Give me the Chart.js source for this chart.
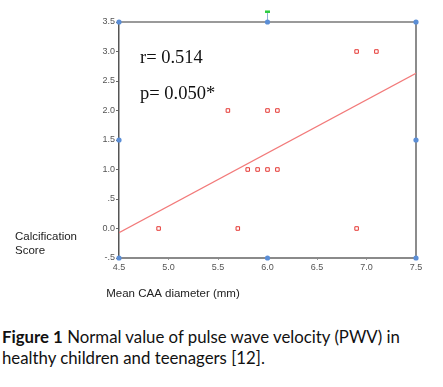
<!DOCTYPE html>
<html>
<head>
<meta charset="utf-8">
<script src="https://cdn.jsdelivr.net/npm/chart.js@4"></script>
<style>
  body { margin: 0; background: #fff; }
  #wrap { position: relative; width: 443px; height: 310px; }
  .caption {
    position: absolute; left: 2px; top: 326px; width: 441px;
    font-family: Lato, "Open Sans", sans-serif; font-size: 16.8px; line-height: 21px; color: #111;
  }
</style>
</head>
<body>
<div id="wrap"><canvas id="scatterCanvas"></canvas></div>
<div class="caption"><b>Figure 1</b> Normal value of pulse wave velocity (PWV) in<br>healthy children and teenagers [12].</div>
<script>
// data
const caaDiameter = [4.9, 5.7, 6.9, 5.8, 5.9, 6.0, 6.1, 5.6, 6.0, 6.1, 6.9, 7.1];
const calcScore   = [0,   0,   0,   1,   1,   1,   1,   2,   2,   2,   3,   3];
const fitX = [4.5, 7.5];
const fitY = [-0.07, 2.63];
const xTicks = [4.5, 5.0, 5.5, 6.0, 6.5, 7.0, 7.5];
const xTickLabels = ['4.5', '5.0', '5.5', '6.0', '6.5', '7.0', '7.5'];
const yTicks = [-0.5, 0, 0.5, 1.0, 1.5, 2.0, 2.5, 3.0, 3.5];
const yTickLabels = ['-.5', '0.0', '.5', '1.0', '1.5', '2.0', '2.5', '3.0', '3.5'];
// picture-editor selection handles visible on the figure
const handleX = [4.5, 6.0, 7.5, 4.5, 7.5, 4.5, 6.0, 7.5];
const handleY = [3.5, 3.5, 3.5, 1.5, 1.5, -0.5, -0.5, -0.5];
const rotateX = [6.0, 6.0];
const rotateY = [3.5, 3.67];

const toPoints = (xs, ys) => xs.map((x, i) => ({ x: x, y: ys[i] }));

const textPlugin = {
  id: 'figText',
  beforeDatasetsDraw(chart) {
    const { ctx, chartArea: a } = chart;
    ctx.save();
    // top and right frame lines
    ctx.strokeStyle = '#9a9a9a';
    ctx.lineWidth = 2;
    ctx.beginPath();
    ctx.moveTo(a.left, a.top);
    ctx.lineTo(a.right, a.top);
    ctx.stroke();
    ctx.strokeStyle = '#666';
    ctx.lineWidth = 1.5;
    ctx.beginPath();
    ctx.moveTo(a.right, a.top);
    ctx.lineTo(a.right, a.bottom);
    ctx.stroke();
    ctx.restore();
  },
  afterDraw(chart) {
    const ctx = chart.ctx;
    const { x, y } = chart.scales;
    ctx.save();
    // green rotate handle at the top of the stem
    const hx = x.getPixelForValue(rotateX[1]);
    const hy = y.getPixelForValue(rotateY[1]);
    ctx.fillStyle = '#2ecc40';
    ctx.fillRect(hx - 2.5, hy - 1.5, 5, 2.5);
    ctx.fillStyle = '#111';
    ctx.font = '18.5px "Liberation Serif", serif';
    ctx.textBaseline = 'alphabetic';
    ctx.fillText('r= 0.514', 140, 63);
    ctx.fillText('p= 0.050*', 140, 99);
    ctx.fillStyle = '#222';
    ctx.font = '11.5px "Liberation Sans", Arial, sans-serif';
    ctx.fillText('Calcification', 15, 240);
    ctx.fillText('Score', 15, 254);
    ctx.textAlign = 'center';
    ctx.fillText('Mean CAA diameter (mm)', 173, 297);
    ctx.restore();
  }
};

new Chart(document.getElementById('scatterCanvas'), {
  type: 'scatter',
  data: {
    datasets: [
      {
        data: toPoints(handleX, handleY),
        pointRadius: 2.6,
        borderWidth: 0,
        backgroundColor: '#5b8ed6',
        clip: false
      },
      {
        data: toPoints(rotateX, rotateY),
        showLine: true,
        borderColor: '#8fb0d8',
        borderWidth: 1,
        pointRadius: 0,
        clip: false
      },
      {
        data: toPoints(caaDiameter, calcScore),
        pointStyle: 'rect',
        pointRadius: 2.5,
        borderWidth: 1,
        borderColor: '#e53935',
        backgroundColor: '#fff'
      },
      {
        data: toPoints(fitX, fitY),
        showLine: true,
        borderColor: '#f27a7a',
        borderWidth: 1.2,
        pointRadius: 0
      }
    ]
  },
  options: {
    responsive: true,
    maintainAspectRatio: false,
    animation: false,
    layout: { padding: { top: 22, right: 27, left: 0, bottom: 0 } },
    plugins: { legend: { display: false }, tooltip: { enabled: false } },
    scales: {
      x: {
        type: 'linear',
        min: 4.5,
        max: 7.5,
        afterFit: s => { s.height = 52; },
        afterBuildTicks: s => { s.ticks = xTicks.map(v => ({ value: v })); },
        ticks: {
          padding: 2,
          color: '#555',
          font: { family: '"Liberation Sans", Arial', size: 9 },
          callback: v => xTickLabels[xTicks.indexOf(v)]
        },
        grid: { drawOnChartArea: false, tickLength: 2, color: '#999' },
        border: { color: '#8a8a8a', width: 2 }
      },
      y: {
        min: -0.5,
        max: 3.5,
        afterFit: s => { s.width = 119; },
        afterBuildTicks: s => { s.ticks = yTicks.map(v => ({ value: v })); },
        ticks: {
          padding: 1,
          color: '#555',
          font: { family: '"Liberation Sans", Arial', size: 9 },
          callback: v => yTickLabels[yTicks.indexOf(v)]
        },
        grid: { drawOnChartArea: false, tickLength: 3, color: '#666' },
        border: { color: '#555', width: 1.5 }
      }
    }
  },
  plugins: [textPlugin]
});
</script>
</body>
</html>
